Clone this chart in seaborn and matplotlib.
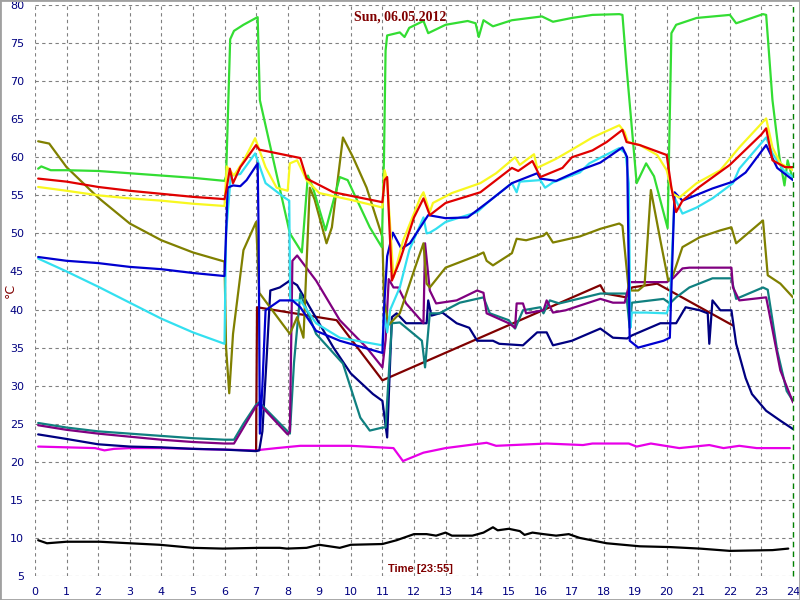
import numpy as np
import pandas as pd
import matplotlib
matplotlib.use("Agg")
import matplotlib.pyplot as plt
from matplotlib.patches import Rectangle
from matplotlib.ticker import MultipleLocator
import seaborn as sns

# temperature logger, one day, readings as (hour, degC)
green = [(0.1, 58.5), (0.2, 58.8), (0.5, 58.3), (1, 58.3), (2, 58.2), (3, 57.9), (4, 57.6),
         (5, 57.3), (6.0, 56.9), (6.05, 57.5), (6.18, 75.5), (6.3, 76.6), (6.6, 77.4),
         (7.0, 78.3), (7.05, 78.4), (7.12, 67.5), (8.07, 50.0), (8.45, 47.5), (8.64, 57.6),
         (8.8, 56.0), (9.2, 50.4), (9.65, 57.4), (9.9, 57.0), (10.6, 50.8), (10.98, 48.2),
         (11.05, 60.0), (11.1, 74.0), (11.15, 76.0), (11.55, 76.4), (11.7, 75.8), (11.85, 77.0),
         (12.3, 77.9), (12.45, 76.3), (13.0, 77.4), (13.7, 77.9), (13.95, 77.6), (14.05, 75.8),
         (14.2, 78.0), (14.5, 77.2), (15.1, 78.0), (16.05, 78.5), (16.4, 77.8), (17.0, 78.3),
         (17.65, 78.7), (18.5, 78.8), (18.6, 78.7), (18.73, 71.8), (19.05, 56.6), (19.35, 59.2),
         (19.6, 57.5), (20.03, 50.7), (20.15, 76.3), (20.3, 77.4), (20.95, 78.3), (22.0, 78.7),
         (22.2, 77.6), (22.7, 78.3), (23.05, 78.8), (23.15, 78.7), (23.35, 67.5), (23.57, 60.0),
         (23.73, 56.3), (23.83, 59.6), (24, 57.0)]

yellow = [(0.1, 56.1), (1, 55.6), (2, 55.0), (3, 54.6), (4, 54.3), (5, 53.9), (6.0, 53.6),
          (6.07, 58.8), (6.3, 57.6), (6.6, 59.5), (6.97, 62.5), (7.3, 58.7), (7.65, 56.0),
          (8.0, 55.6), (8.07, 59.2), (8.3, 59.6), (8.6, 57.0), (9.0, 55.3), (10.0, 54.4),
          (11.0, 53.4), (11.07, 58.3), (11.15, 57.0), (11.35, 44.2), (11.65, 49.0), (12.2, 54.7),
          (12.3, 55.4), (12.5, 52.8), (12.6, 54.0), (13.2, 55.3), (14.1, 56.6), (14.6, 57.9),
          (15.2, 60.0), (15.35, 59.0), (15.8, 60.4), (15.9, 58.6), (16.5, 59.8), (17.0, 61.0),
          (17.65, 62.6), (18.5, 64.2), (18.67, 63.3), (18.77, 62.0), (19.15, 61.6), (19.7, 60.3),
          (20.0, 58.3), (20.2, 55.2), (20.4, 54.7), (20.95, 56.6), (21.7, 58.3), (22.3, 61.3),
          (23.15, 65.1), (23.35, 61.3), (23.6, 59.2), (24, 58.3)]

red = [(0.1, 57.2), (1, 56.8), (2, 56.1), (3, 55.6), (4, 55.2), (5, 54.8), (6.0, 54.5),
       (6.05, 55.5), (6.17, 58.5), (6.27, 56.6), (6.5, 58.7), (7.0, 61.6), (7.1, 61.0),
       (8.4, 59.9), (8.6, 57.2), (9.45, 55.4), (11.0, 54.1), (11.07, 57.0), (11.15, 57.4),
       (11.3, 43.8), (11.55, 46.4), (12.0, 52.1), (12.3, 54.6), (12.5, 52.4), (13.0, 54.0),
       (14.1, 55.4), (15.1, 58.6), (15.3, 58.2), (15.75, 59.5), (16.0, 57.4), (16.7, 58.6),
       (17.0, 60.0), (17.65, 60.9), (18.1, 62.0), (18.6, 63.6), (18.73, 62.0), (19.15, 61.6),
       (20.0, 60.3), (20.15, 56.0), (20.3, 52.8), (20.5, 54.3), (21.0, 56.0), (22.0, 59.0),
       (23.0, 63.0), (23.15, 63.8), (23.35, 59.6), (23.75, 58.7), (24, 58.7)]

cyan = [(0.1, 46.7), (1, 45.0), (2, 43.0), (3, 40.9), (4, 38.8), (5, 37.0), (6.0, 35.5),
        (6.05, 50.0), (6.2, 57.6), (6.5, 57.8), (6.97, 60.5), (7.3, 56.6), (7.9, 54.7),
        (8.05, 54.3), (8.08, 41.2), (8.4, 41.2), (8.9, 38.2), (9.65, 36.3), (11.0, 35.3),
        (11.05, 39.5), (11.15, 37.0), (11.25, 40.0), (11.55, 42.9), (11.85, 47.8), (12.3, 52.1),
        (12.4, 50.0), (12.5, 50.1), (12.7, 50.6), (13.0, 51.5), (14.0, 52.8), (14.4, 54.3),
        (15.1, 56.6), (15.25, 55.4), (15.35, 56.8), (16.0, 57.0), (16.15, 56.0), (16.4, 56.7),
        (17.25, 58.0), (17.55, 59.2), (18.5, 61.2), (18.7, 60.5), (18.8, 56.6), (18.85, 37.6),
        (18.9, 39.6), (19.35, 39.6), (20.0, 39.5), (20.1, 40.8), (20.25, 54.7), (20.5, 52.6),
        (20.95, 53.4), (21.45, 54.6), (22.1, 56.6), (22.3, 58.5), (23.15, 62.6), (23.35, 60.5),
        (23.7, 58.3), (24, 57.4)]

blue = [(0.1, 46.9), (1, 46.4), (2, 46.1), (3, 45.6), (4, 45.3), (5, 44.8), (6.0, 44.4),
        (6.05, 50.0), (6.1, 56.0), (6.27, 56.3), (6.5, 56.2), (6.7, 57.0), (7.05, 59.2),
        (7.08, 50.0), (7.12, 23.7), (7.2, 30.0), (7.3, 39.9), (7.75, 41.2), (8.15, 41.2),
        (8.4, 40.3), (8.9, 37.2), (9.65, 35.9), (11.0, 34.3), (11.05, 40.0), (11.15, 47.0),
        (11.33, 50.1), (11.6, 48.0), (11.87, 48.7), (12.45, 52.4), (13.0, 52.0), (13.7, 52.1),
        (14.4, 54.3), (15.1, 56.6), (15.9, 57.9), (16.0, 57.2), (16.5, 56.9), (17.25, 58.3),
        (17.9, 59.3), (18.6, 61.3), (18.75, 60.0), (18.83, 35.9), (19.1, 35.0), (19.9, 35.9),
        (20.1, 36.3), (20.25, 55.4), (20.5, 54.3), (21.45, 55.9), (22.1, 56.8), (22.5, 58.0),
        (23.15, 61.6), (23.5, 58.6), (24, 57.0)]

olive = [(0.1, 62.1), (0.45, 61.8), (1.0, 58.7), (2.0, 54.7), (3.0, 51.3), (4.0, 49.1),
         (5.0, 47.5), (6.0, 46.3), (6.05, 35.0), (6.15, 29.0), (6.27, 36.8), (6.6, 47.8),
         (7.0, 51.5), (7.1, 42.2), (8.07, 36.8), (8.3, 39.0), (8.5, 36.3), (8.7, 56.0),
         (8.85, 54.5), (9.23, 48.7), (9.4, 50.8), (9.75, 62.6), (10.07, 60.0), (10.5, 56.0),
         (11.0, 49.5), (11.05, 41.2), (11.2, 38.0), (11.55, 39.5), (12.0, 45.1), (12.3, 48.7),
         (12.4, 43.4), (12.5, 42.9), (13.0, 45.5), (14.0, 47.1), (14.2, 47.5), (14.3, 46.4),
         (14.5, 45.8), (15.1, 47.4), (15.25, 49.3), (15.55, 49.1), (16.1, 49.7), (16.2, 50.1),
         (16.4, 48.8), (17.25, 49.6), (17.9, 50.6), (18.5, 51.3), (18.6, 51.0), (18.8, 42.5),
         (19.1, 42.5), (19.3, 43.2), (19.5, 55.7), (19.8, 49.1), (20.05, 43.8), (20.2, 44.5),
         (20.5, 48.2), (21.05, 49.5), (21.7, 50.4), (22.05, 50.8), (22.2, 48.7), (23.05, 51.7),
         (23.2, 44.5), (23.6, 43.4), (24, 41.6)]

purple = [(0.1, 24.8), (1, 24.2), (2, 23.7), (3, 23.3), (4, 22.9), (5, 22.6), (6.0, 22.4),
          (6.3, 22.4), (6.6, 24.5), (7.0, 27.3), (7.1, 27.6), (8.0, 23.6), (8.07, 24.0),
          (8.15, 46.4), (8.3, 47.1), (8.9, 43.8), (9.65, 38.6), (10.5, 35.0), (11.0, 32.4),
          (11.1, 36.0), (11.2, 44.0), (11.35, 42.9), (11.5, 42.9), (11.75, 40.8), (12.3, 38.2),
          (12.35, 48.7), (12.5, 42.5), (12.7, 40.8), (13.35, 41.2), (14.0, 42.5), (14.2, 42.2),
          (14.3, 39.5), (15.0, 38.2), (15.2, 37.6), (15.25, 40.8), (15.45, 40.8), (15.55, 39.5),
          (16.1, 39.9), (16.2, 41.2), (16.4, 39.6), (16.8, 39.9), (17.9, 41.4), (18.3, 40.9),
          (18.67, 40.9), (18.83, 43.6), (20.0, 43.6), (20.2, 44.1), (20.5, 45.4), (20.72, 45.5),
          (22.05, 45.5), (22.1, 42.9), (22.3, 41.2), (23.15, 41.6), (23.25, 39.5), (23.6, 32.0),
          (24, 27.8)]

teal = [(0.1, 25.1), (1, 24.5), (2, 24.0), (3, 23.7), (4, 23.4), (5, 23.1), (6.0, 22.9),
        (6.3, 22.9), (6.6, 25.0), (7.0, 27.5), (7.1, 27.8), (8.07, 23.7), (8.2, 33.0),
        (8.4, 42.1), (8.9, 36.8), (9.75, 32.9), (10.3, 25.8), (10.6, 24.1), (11.0, 24.5),
        (11.1, 24.5), (11.3, 38.2), (11.55, 38.3), (12.25, 35.9), (12.35, 32.4), (12.5, 39.5),
        (12.8, 39.5), (13.45, 40.9), (14.2, 41.6), (14.4, 39.5), (15.0, 38.6), (15.2, 37.5),
        (15.45, 39.9), (16.0, 40.3), (16.1, 39.5), (16.3, 41.2), (16.6, 40.8), (17.9, 42.1),
        (18.72, 42.1), (18.83, 37.6), (18.9, 40.9), (19.9, 41.4), (20.1, 40.8), (20.3, 41.6),
        (20.72, 42.9), (21.45, 44.1), (22.05, 44.1), (22.2, 41.4), (23.05, 42.9), (23.2, 42.6),
        (23.5, 34.6), (23.8, 29.3), (24, 28.0)]

navy = [(0.1, 23.6), (1, 23.0), (2, 22.3), (3, 22.0), (4, 21.9), (5, 21.7), (6, 21.6),
        (7.0, 21.4), (7.1, 21.5), (7.2, 24.0), (7.33, 33.3), (7.45, 42.5), (7.75, 42.9),
        (8.07, 43.8), (8.3, 43.2), (8.7, 40.3), (9.45, 35.0), (10.0, 31.6), (10.7, 28.9),
        (11.0, 28.0), (11.15, 23.2), (11.3, 39.0), (11.45, 39.5), (11.75, 38.2), (12.4, 38.2),
        (12.45, 41.2), (12.55, 39.2), (12.9, 39.6), (13.35, 38.2), (13.75, 37.6), (14.0, 35.9),
        (14.5, 35.9), (14.7, 35.5), (15.45, 35.3), (15.9, 37.0), (16.2, 37.0), (16.4, 35.3),
        (17.0, 35.9), (17.9, 37.5), (18.3, 36.3), (18.75, 36.2), (18.9, 36.6), (19.8, 38.2),
        (20.3, 38.2), (20.6, 40.3), (21.05, 39.9), (21.3, 39.5), (21.35, 35.5), (21.45, 41.2),
        (21.7, 39.9), (22.05, 39.9), (22.2, 35.5), (22.5, 31.0), (22.7, 28.9), (23.15, 26.7),
        (23.6, 25.4), (24, 24.3)]

maroon = [(7.0, 21.4), (7.03, 40.3), (9.55, 38.6), (11.0, 30.7), (17.9, 43.2), (18.05, 42.1),
          (18.72, 41.6), (18.9, 42.9), (19.7, 43.4), (22.1, 37.9)]

magenta = [(0.1, 22.0), (1, 21.9), (1.9, 21.8), (2.2, 21.5), (2.5, 21.7), (3, 21.8), (4, 21.8),
           (5, 21.7), (6, 21.6), (7, 21.5), (7.2, 21.6), (7.65, 21.8), (8.4, 22.1), (10, 22.1),
           (11.35, 21.8), (11.65, 20.1), (12.3, 21.2), (13.0, 21.8), (14.3, 22.5), (14.6, 22.1),
           (16.2, 22.4), (17.35, 22.2), (17.65, 22.4), (18.8, 22.4), (19.05, 22.0), (19.5, 22.4),
           (20.1, 22.0), (20.4, 21.8), (21.35, 22.2), (21.8, 21.8), (22.3, 22.1), (22.85, 21.8),
           (23.9, 21.8)]

black = [(0.1, 9.7), (0.38, 9.3), (1, 9.5), (2.05, 9.5), (3.0, 9.3), (3.95, 9.1), (5.0, 8.7),
         (5.95, 8.6), (7.1, 8.7), (7.75, 8.7), (7.97, 8.6), (8.6, 8.7), (9.0, 9.1), (9.65, 8.7),
         (10.0, 9.1), (11.0, 9.2), (11.45, 9.7), (12.0, 10.5), (12.4, 10.5), (12.7, 10.3),
         (13.0, 10.7), (13.2, 10.3), (13.85, 10.3), (14.2, 10.7), (14.5, 11.4), (14.65, 11.0),
         (15.0, 11.2), (15.35, 10.9), (15.5, 10.4), (15.75, 10.7), (16.1, 10.5), (16.5, 10.3),
         (16.9, 10.5), (17.25, 10.0), (18.1, 9.3), (19.15, 8.9), (20.1, 8.8), (21.05, 8.6),
         (22.0, 8.3), (23.35, 8.4), (23.85, 8.6)]

# drawing order, bottom first
series = [
    (black, "#000000"),
    (magenta, "#e800e8"),
    (maroon, "#800000"),
    (navy, "#000080"),
    (teal, "#108080"),
    (purple, "#800080"),
    (olive, "#808000"),
    (green, "#33dd33"),
    (cyan, "#33e0f0"),
    (blue, "#0000d0"),
    (yellow, "#f8f820"),
    (red, "#e00000"),
]

sns.set_style("white")
plt.rcParams["font.family"] = ["DejaVu Sans"]

fig = plt.figure(figsize=(8, 6), dpi=100)
ax = fig.add_axes([35 / 800, 1 - 576 / 600, (793 - 35) / 800, (576 - 5) / 600])

for pts, col in series:
    df = pd.DataFrame(pts, columns=["hour", "temp"])
    sns.lineplot(data=df, x="hour", y="temp", color=col, lw=1.6, ax=ax,
                 sort=False, estimator=None, legend=False)

ax.set_xlim(0, 24)
ax.set_ylim(5, 80)
ax.set_xlabel("")
ax.set_ylabel("")
for s in ax.spines.values():
    s.set_visible(False)

ax.xaxis.set_major_locator(MultipleLocator(1))
ax.xaxis.set_minor_locator(MultipleLocator(1 / 8))
ax.yaxis.set_major_locator(MultipleLocator(5))
ax.yaxis.set_minor_locator(MultipleLocator(1))
ax.tick_params(axis="both", which="both", direction="out", color="black",
               labelcolor="#000080", labelsize=8, width=1)
ax.tick_params(axis="y", which="major", length=7, pad=1)
ax.tick_params(axis="y", which="minor", length=3)
ax.tick_params(axis="x", which="major", length=6, pad=2)
ax.tick_params(axis="x", which="minor", length=4)

ax.grid(True, which="major", color="#808080", linestyle=(0, (3, 3)), linewidth=0.8)
ax.set_axisbelow(True)
# no grid on the plot edges
for gl in [ax.get_xgridlines()[0], ax.get_xgridlines()[-1],
           ax.get_ygridlines()[0], ax.get_ygridlines()[-1]]:
    gl.set_visible(False)

# current time marker
ax.axvline(24, color="#008000", linestyle=(0, (4, 3)), lw=1, clip_on=False)

fig.text(0.5, 1 - 17 / 600, "Sun, 06.05.2012", ha="center", va="center",
         color="#800000", fontsize=10, fontweight="bold", family=["Liberation Serif"])
fig.text(420 / 800, 1 - 569 / 600, "Time [23:55]", ha="center", va="center",
         color="#800000", fontsize=8, fontweight="bold", family=["Liberation Sans"])
fig.text(10 / 800, 1 - 290 / 600, "°C", ha="center", va="center", rotation=90,
         color="#800000", fontsize=9)

fig.patches.append(Rectangle((0, 0), 1, 1, transform=fig.transFigure, fill=False,
                             edgecolor="#a0a0a0", lw=2))

fig.savefig("out.png", dpi=100)
